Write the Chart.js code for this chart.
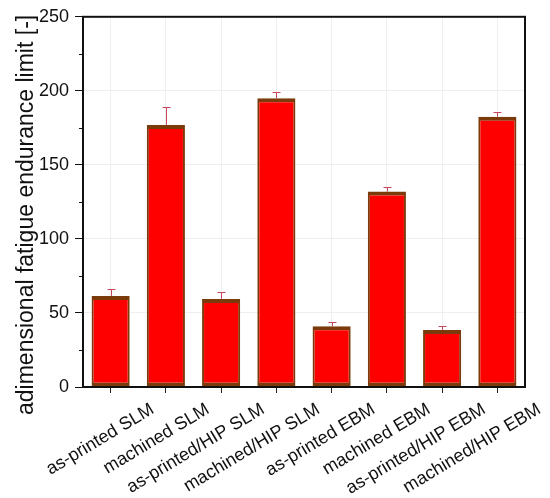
<!DOCTYPE html>
<html>
<head>
<meta charset="utf-8">
<script src="https://cdn.jsdelivr.net/npm/chart.js@4/dist/chart.umd.min.js"></script>
<style>
  html, body { margin: 0; padding: 0; background: #fff; }
  #wrap { width: 550px; height: 498px; }
</style>
</head>
<body>
<div id="wrap"><canvas id="chart"></canvas></div>
<script>
// Valores
const categories = [
  'as-printed SLM', 'machined SLM', 'as-printed/HIP SLM', 'machined/HIP SLM',
  'as-printed EBM', 'machined EBM', 'as-printed/HIP EBM', 'machined/HIP EBM',
];
const limits = [61.5, 177, 59.5, 195, 41, 132, 38.5, 182.5];
const errPlus = [4.5, 12, 4.5, 4.5, 3, 3, 2.5, 3.5];
const yMajor = [0, 50, 100, 150, 200, 250];
const yMinor = [25, 75, 125, 175, 225];
const yTitle = 'adimensional fatigue endurance limit [-]';

const FONT = "'Liberation Sans', Arial, sans-serif";

// Barras de error, recuadro, ticks menores, etiquetas rotadas y título del eje
const decor = {
  id: 'decor',
  afterDatasetsDraw(chart) {
    const { ctx, scales: { x, y } } = chart;
    ctx.save();
    ctx.strokeStyle = '#c8465a';
    ctx.lineWidth = 1;
    limits.forEach((v, i) => {
      const px = Math.round(x.getPixelForValue(i)) + 0.5;
      const y0 = y.getPixelForValue(v);
      const y1 = Math.round(y.getPixelForValue(v + errPlus[i])) + 0.5;
      ctx.beginPath();
      ctx.moveTo(px, y0);
      ctx.lineTo(px, y1);
      ctx.moveTo(px - 4, y1);
      ctx.lineTo(px + 4, y1);
      ctx.stroke();
    });
    ctx.restore();
  },
  afterDraw(chart) {
    const { ctx, chartArea: a, scales: { x, y } } = chart;
    ctx.save();
    ctx.strokeStyle = '#111';
    ctx.lineWidth = 2;
    ctx.strokeRect(a.left, a.top, a.right - a.left, a.bottom - a.top);

    ctx.lineWidth = 1;
    yMinor.forEach((v) => {
      const py = Math.round(y.getPixelForValue(v)) + 0.5;
      ctx.beginPath();
      ctx.moveTo(a.left - 4, py);
      ctx.lineTo(a.left, py);
      ctx.stroke();
    });

    ctx.fillStyle = '#111';
    ctx.font = `18px ${FONT}`;
    ctx.textAlign = 'right';
    ctx.textBaseline = 'middle';
    categories.forEach((c, i) => {
      const px = x.getPixelForValue(i);
      ctx.save();
      ctx.translate(px + 42, a.bottom + 21);
      ctx.rotate(-31 * Math.PI / 180);
      ctx.fillText(c, 0, 0);
      ctx.restore();
    });

    ctx.font = `23px ${FONT}`;
    ctx.textAlign = 'center';
    ctx.textBaseline = 'alphabetic';
    ctx.translate(33, (a.top + a.bottom) / 2 + 13);
    ctx.rotate(-Math.PI / 2);
    ctx.fillText(yTitle, 0, 0);
    ctx.restore();
  },
};

new Chart(document.getElementById('chart'), {
  type: 'bar',
  data: {
    labels: categories,
    datasets: [{
      data: limits,
      backgroundColor: '#ff0000',
      borderColor: '#7a3a0a',
      borderWidth: { top: 4, bottom: 4, left: 2, right: 2 },
      borderSkipped: false,
      categoryPercentage: 1,
      barPercentage: 0.69,
    }],
  },
  options: {
    responsive: true,
    maintainAspectRatio: false,
    animation: false,
    layout: { padding: { top: 15, right: 25, left: 0, bottom: 0 } },
    plugins: { legend: { display: false }, tooltip: { enabled: false } },
    scales: {
      x: {
        type: 'category',
        offset: true,
        grid: { offset: false, color: '#efefef', tickColor: '#222', tickLength: 6 },
        border: { display: false },
        ticks: { display: false },
        afterFit: (s) => { s.height = 111; },
      },
      y: {
        min: 0,
        max: 250,
        afterBuildTicks: (s) => { s.ticks = yMajor.map((v) => ({ value: v })); },
        grid: { color: '#efefef', tickColor: '#111', tickLength: 8 },
        border: { display: false },
        ticks: { color: '#111', padding: 6, font: { family: FONT, size: 18 } },
        afterFit: (s) => { s.width = 83; },
      },
    },
  },
  plugins: [decor],
});
</script>
</body>
</html>
